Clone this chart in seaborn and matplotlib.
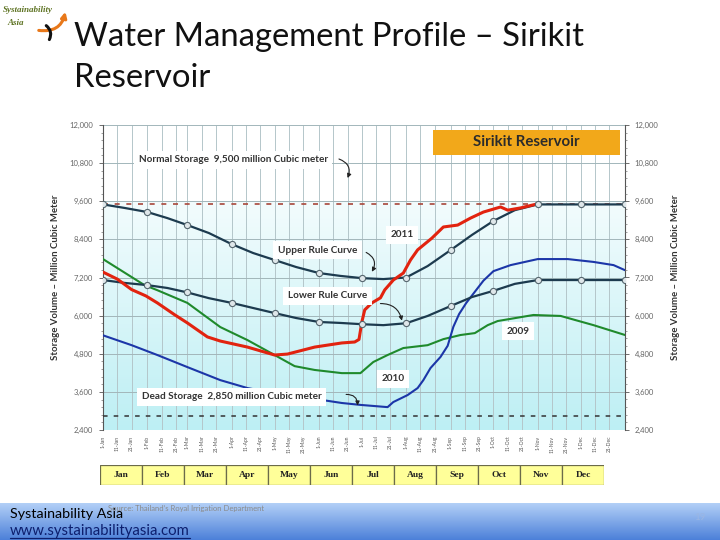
import matplotlib
matplotlib.use("Agg")
import matplotlib.pyplot as plt
import matplotlib.ticker as mticker
from matplotlib.colors import LinearSegmentedColormap
from matplotlib.patches import FancyArrowPatch
from matplotlib.lines import Line2D
import numpy as np
import seaborn as sns

sns.set_theme(style="white")
plt.rcParams['font.family'] = ['Lato', 'DejaVu Sans']

# ---------------- data ----------------
months = ["Jan", "Feb", "Mar", "Apr", "May", "Jun",
          "Jul", "Aug", "Sep", "Oct", "Nov", "Dec"]
month_start_days = [0, 31, 59, 90, 120, 151, 181, 212, 243, 273, 304, 334]
tick_offsets = [0, 10, 20]
y_ticks = [2400, 3600, 4800, 6000, 7200, 8400, 9600, 10800, 12000]

normal_storage = 9500
dead_storage = 2850

rule_days = [0, 15, 31, 45, 59, 74, 90, 105, 120, 135, 151, 166, 181, 196,
             212, 227, 243, 258, 273, 288, 304, 319, 334, 349, 365]
upper_rule = [9500, 9390, 9260, 9070, 8850, 8600, 8250, 7970, 7750, 7530,
              7340, 7250, 7180, 7150, 7200, 7560, 8060, 8540, 8980, 9320,
              9500, 9500, 9500, 9500, 9500]
lower_rule = [7120, 7030, 6960, 6870, 6730, 6550, 6400, 6240, 6080, 5925,
              5800, 5770, 5730, 5700, 5760, 5990, 6300, 6585, 6780, 7000,
              7120, 7120, 7120, 7120, 7120]

days_2011 = [0, 10, 20, 30, 38, 50, 59, 73, 82, 101, 120, 129, 148, 167, 176,
             179, 181, 183, 188, 194, 197, 203, 210, 215, 220, 230, 238, 248,
             257, 266, 278, 283, 292, 303]
vol_2011 = [7370, 7150, 6820, 6620, 6400, 6030, 5770, 5330, 5200, 5010, 4760,
            4790, 5010, 5140, 5170, 5250, 5800, 6180, 6400, 6560, 6810, 7120,
            7340, 7750, 8070, 8440, 8790, 8850, 9070, 9260, 9420, 9320, 9390,
            9510]

days_2009 = [0, 29, 38, 59, 82, 101, 120, 134, 148, 167, 180, 189, 199, 210,
             227, 238, 250, 260, 269, 276, 301, 320, 343, 365]
vol_2009 = [7780, 6960, 6800, 6400, 5640, 5230, 4760, 4410, 4290, 4190, 4190,
            4540, 4760, 4980, 5070, 5260, 5390, 5450, 5700, 5830, 6020, 5990,
            5700, 5390]

days_2010 = [0, 20, 38, 59, 82, 101, 120, 148, 167, 180, 199, 203, 213, 220,
             224, 229, 236, 241, 245, 249, 254, 260, 266, 273, 285, 304, 325,
             343, 357, 365]
vol_2010 = [5380, 5070, 4760, 4380, 3970, 3720, 3560, 3380, 3250, 3190, 3120,
            3280, 3500, 3720, 3970, 4350, 4700, 5050, 5650, 6050, 6400, 6750,
            7100, 7400, 7590, 7780, 7780, 7690, 7590, 7430]

tick_days = [d + o for d in month_start_days for o in tick_offsets]
tick_labels = [f"{1 + o}-{m}" for m in months for o in tick_offsets]

# ---------------- figure ----------------
fig = plt.figure(figsize=(7.2, 5.4), dpi=100)
fig.patch.set_facecolor("white")

W, H = 720, 540
def fx(px): return px / W
def fy(py): return 1 - py / H

ax = fig.add_axes([fx(103), fy(430), 522 / W, 305 / H])

# background gradient (light cyan towards bottom)
grad = np.linspace(0, 1, 256).reshape(-1, 1)
bg_cmap = LinearSegmentedColormap.from_list("bg", ["#f3fcfd", "#bdeff4"])
ax.imshow(grad, extent=(0, 365, 2400, 9600), aspect="auto", cmap=bg_cmap,
          zorder=0, interpolation="bicubic")

rule_color = "#1d3b4f"
sns.lineplot(x=rule_days, y=upper_rule, ax=ax, color=rule_color, lw=1.6, zorder=4)
sns.lineplot(x=rule_days, y=lower_rule, ax=ax, color=rule_color, lw=1.6, zorder=4)
sns.lineplot(x=days_2009, y=vol_2009, ax=ax, color="#1f8a2c", lw=1.5, zorder=3)
sns.lineplot(x=days_2010, y=vol_2010, ax=ax, color="#1c36a8", lw=1.5, zorder=3)
sns.lineplot(x=days_2011, y=vol_2011, ax=ax, color="#e2230f", lw=2.2, zorder=5)
sns.scatterplot(x=rule_days[::2], y=upper_rule[::2], ax=ax, s=20,
                color="#dfe7ea", edgecolor="#55666e", linewidth=0.8, zorder=6)
sns.scatterplot(x=rule_days[::2], y=lower_rule[::2], ax=ax, s=20,
                color="#dfe7ea", edgecolor="#55666e", linewidth=0.8, zorder=6)

ax.axhline(normal_storage, color="#a8463a", lw=1.2, ls=(0, (3, 4)), zorder=3)
ax.axhline(dead_storage, color="#333333", lw=1.1, ls=(0, (3, 4)), zorder=3)

ax.set_xlim(0, 365)
ax.set_ylim(2400, 12000)
ax.set_xticks(tick_days)
ax.set_xticklabels(tick_labels, rotation=90, fontsize=3.6, color="#555555")
ax.set_yticks(y_ticks)
ax.yaxis.set_major_formatter(mticker.FuncFormatter(lambda v, p: f"{int(v):,}"))
ax.yaxis.set_minor_locator(mticker.MultipleLocator(240))
ax.tick_params(axis="y", labelsize=5.5, labelcolor="#666666", length=3,
               width=0.6, color="#555555", pad=4)
ax.tick_params(axis="y", which="minor", length=1.5, width=0.5, color="#777777")
ax.tick_params(axis="x", length=2, width=0.5, color="#777777", pad=2)
ax.grid(True, axis="x", color="#b4c6ca", lw=0.7)
ax.grid(True, axis="y", color="#a2b6ba", lw=0.7)
ax.set_axisbelow(True)
for side in ["left", "right"]:
    ax.spines[side].set_color("#555555")
    ax.spines[side].set_linewidth(0.8)
for side in ["top", "bottom"]:
    ax.spines[side].set_visible(False)
ax.set_xlabel("")
ax.set_ylabel("Storage Volume \u2013 Million Cubic Meter", fontsize=6.9,
              fontweight="bold", color="#333333", labelpad=7)

ax2 = ax.twinx()
ax2.set_ylim(2400, 12000)
ax2.set_yticks(y_ticks)
ax2.yaxis.set_major_formatter(mticker.FuncFormatter(lambda v, p: f"{int(v):,}"))
ax2.yaxis.set_minor_locator(mticker.MultipleLocator(240))
ax2.tick_params(axis="y", labelsize=5.5, labelcolor="#666666", length=3,
                width=0.6, color="#555555", pad=4)
ax2.tick_params(axis="y", which="minor", length=1.5, width=0.5, color="#777777")
for side in ["top", "bottom", "left", "right"]:
    ax2.spines[side].set_visible(False)
ax2.set_ylabel("Storage Volume \u2013 Million Cubic Meter", fontsize=6.9,
               fontweight="bold", color="#333333", labelpad=9, rotation=90)

# annotations
box = dict(boxstyle="square,pad=0.45", fc="white", ec="none")
lab_kw = dict(ha="center", va="center", fontsize=7.2, fontweight="bold",
              color="#333333", bbox=box, zorder=8)
ax.text(91, 10900, "Normal Storage  9,500 million Cubic meter", **lab_kw)
ax.text(150, 8060, "Upper Rule Curve", **lab_kw)
ax.text(157, 6620, "Lower Rule Curve", **lab_kw)
ax.text(209, 8540, "2011", **lab_kw)
ax.text(290, 5510, "2009", **lab_kw)
ax.text(203, 4010, "2010", **lab_kw)
ax.text(90, 3440, "Dead Storage  2,850 million Cubic meter", **lab_kw)

arr = dict(arrowstyle="-|>", color="#222222", lw=0.8, mutation_scale=6,
           shrinkA=0, shrinkB=0)
ax.annotate("", xy=(171, 10330), xytext=(165, 10930),
            arrowprops=dict(connectionstyle="arc3,rad=-0.5", **arr), zorder=9)
ax.annotate("", xy=(188, 7380), xytext=(184, 7990),
            arrowprops=dict(connectionstyle="arc3,rad=-0.5", **arr), zorder=9)
ax.annotate("", xy=(209, 5840), xytext=(194, 6380),
            arrowprops=dict(connectionstyle="arc3,rad=-0.4", **arr), zorder=9)
ax.annotate("", xy=(178, 3170), xytext=(170, 3520),
            arrowprops=dict(connectionstyle="arc3,rad=-0.5", **arr), zorder=9)

ax.add_patch(plt.Rectangle((0.632, 0.902), 0.358, 0.082, transform=ax.transAxes,
                           fc="#f2a81a", ec="none", zorder=8))
ax.text(0.81, 0.944, "Sirikit Reservoir", transform=ax.transAxes, ha="center",
        va="center", fontsize=10.8, fontweight="bold", color="#2b2b2b", zorder=9)

# month bar
axm = fig.add_axes([fx(100), fy(485), 504 / W, 20 / H])
sns.barplot(x=months, y=[1] * 12, ax=axm, width=1, color="#ffff99",
            saturation=1, edgecolor="#6b6b4a", linewidth=0.9)
axm.set_ylim(0, 1)
axm.set_xlim(-0.5, 11.5)
for i, m in enumerate(months):
    axm.text(i, 0.5, m, ha="center", va="center", fontsize=6.8,
             fontweight="bold", family="Liberation Serif", color="#222222")
axm.set_axis_off()

# title
fig.text(fx(74), fy(37), "Water Management Profile \u2013 Sirikit", fontsize=23.6,
         va="center", ha="left", color="#111111")
fig.text(fx(74), fy(78), "Reservoir", fontsize=23.6, va="center", ha="left",
         color="#111111")

# footer band
axf = fig.add_axes([0, 0, 1, 37 / H])
fcmap = LinearSegmentedColormap.from_list("ft", ["#b3d0f7", "#4c80d9"])
axf.imshow(grad, extent=(0, 1, 0, 1), aspect="auto", cmap=fcmap)
axf.set_axis_off()
fig.text(fx(10), fy(514), "Systainability Asia", fontsize=10.3, va="center",
         ha="left", color="#000000")
fig.text(fx(10), fy(531), "www.systainabilityasia.com", fontsize=10.7,
         va="center", ha="left", color="#0d1f6e")
fig.add_artist(Line2D([fx(10), fx(190)], [fy(538), fy(538)], color="#0d1f6e",
                      lw=0.9, transform=fig.transFigure))
fig.text(fx(108), fy(508), "Source: Thailand\u2019s Royal Irrigation Department",
         fontsize=5.5, va="center", ha="left", color="#8a8a8a")
fig.text(fx(700), fy(517), "19", fontsize=7, va="center", ha="center",
         color="#9ab6e4")

# logo
fig.text(fx(3), fy(10), "Systainability", fontsize=6.5, style="italic",
         fontweight="bold", family="Liberation Serif", color="#5f7424",
         va="center", ha="left")
fig.text(fx(7), fy(23), "Asia", fontsize=6.5, style="italic",
         fontweight="bold", family="Liberation Serif", color="#5f7424",
         va="center", ha="left")
fig.add_artist(FancyArrowPatch((fx(36), fy(30)), (fx(66), fy(9)),
                               transform=fig.transFigure,
                               connectionstyle="arc3,rad=0.5",
                               arrowstyle="-|>", mutation_scale=8,
                               color="#e8781a", lw=2.2))
fig.add_artist(FancyArrowPatch((fx(44), fy(24)), (fx(48), fy(42)),
                               transform=fig.transFigure,
                               connectionstyle="arc3,rad=-0.5",
                               arrowstyle="-", color="#111111", lw=2.2))

fig.savefig("out.png", dpi=100)
